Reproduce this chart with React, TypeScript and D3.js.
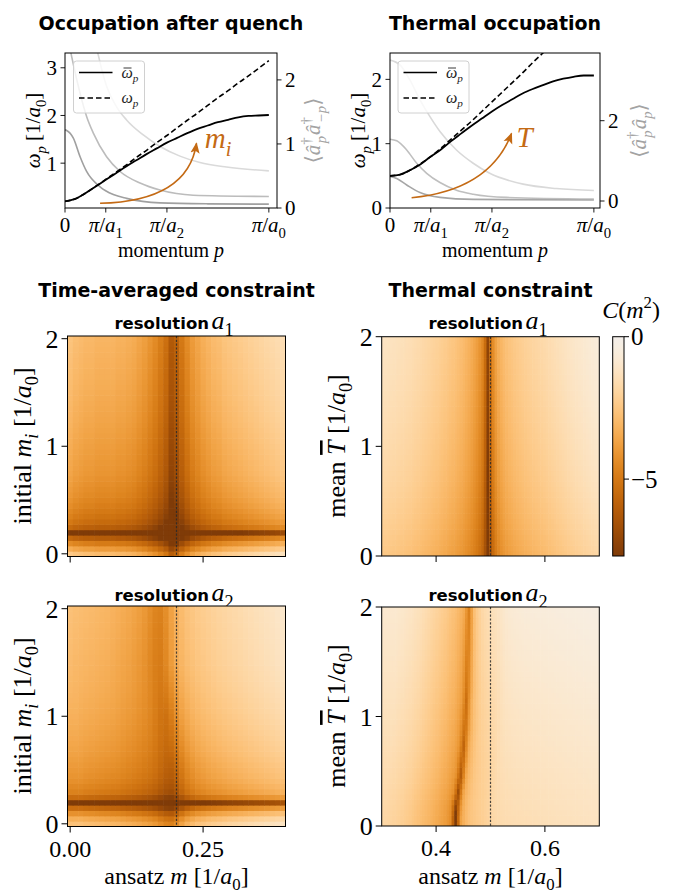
import React from 'react';
import * as d3 from 'd3';

const W = 678, H = 895;
const SERIF = "'Liberation Serif','DejaVu Serif','DejaVu Sans',serif";
const SANS = "'DejaVu Sans',sans-serif";
const ORANGE = '#c46a14';

// ---------- top panels: dispersion (p in units of pi/a0) ----------
const momentum = [0, 0.05, 0.1, 0.15, 0.2, 0.25, 0.3, 0.35, 0.4, 0.45, 0.5, 0.55, 0.6, 0.65, 0.7, 0.75, 0.8, 0.85, 0.9, 0.95, 1.0];
const omegaBarQuench = [0.20, 0.25, 0.37, 0.51, 0.65, 0.79, 0.93, 1.06, 1.19, 1.31, 1.43, 1.53, 1.63, 1.72, 1.79, 1.86, 1.91, 1.96, 1.99, 2.0, 2.01];
const omegaQuench = [0.20, 0.25, 0.37, 0.51, 0.66, 0.81, 0.96, 1.12, 1.27, 1.43, 1.58, 1.74, 1.90, 2.05, 2.21, 2.37, 2.52, 2.68, 2.83, 2.99, 3.15];
const omegaBarThermal = [0.50, 0.52, 0.59, 0.68, 0.80, 0.91, 1.04, 1.16, 1.28, 1.39, 1.50, 1.60, 1.69, 1.78, 1.85, 1.91, 1.97, 2.01, 2.04, 2.06, 2.06];
const omegaThermal = [0.50, 0.52, 0.59, 0.69, 0.80, 0.93, 1.07, 1.21, 1.35, 1.50, 1.65, 1.80, 1.95, 2.10, 2.26, 2.41, 2.56, 2.72, 2.87, 3.03, 3.18];

// occupations [p, value] (right axis)
const occQuenchLow = [[0, 1.22], [0.008, 1.21], [0.041, 1.09], [0.074, 0.80], [0.106, 0.57], [0.172, 0.33], [0.237, 0.21], [0.302, 0.15], [0.466, 0.08], [0.7, 0.065], [1.0, 0.06]];
const occQuenchMid = [[0.015, 2.65], [0.033, 2.36], [0.074, 1.79], [0.106, 1.43], [0.139, 1.17], [0.204, 0.80], [0.270, 0.57], [0.368, 0.39], [0.466, 0.28], [0.629, 0.20], [1.0, 0.18]];
const occQuenchHigh = [[0.145, 2.65], [0.163, 2.39], [0.204, 1.90], [0.253, 1.58], [0.302, 1.375], [0.384, 1.14], [0.466, 0.96], [0.564, 0.81], [0.662, 0.71], [0.792, 0.64], [1.0, 0.58]];
const occThermalHigh = [[0, 3.51], [0.049, 3.39], [0.098, 3.01], [0.147, 2.52], [0.196, 2.10], [0.245, 1.73], [0.326, 1.27], [0.408, 0.94], [0.489, 0.69], [0.653, 0.42], [0.816, 0.31], [1.0, 0.26]];
const occThermalMid = [[0, 1.54], [0.033, 1.50], [0.082, 1.27], [0.131, 0.94], [0.180, 0.69], [0.245, 0.46], [0.326, 0.27], [0.408, 0.17], [0.571, 0.09], [1.0, 0.05]];
const occThermalLow = [[0, 0.61], [0.033, 0.56], [0.082, 0.40], [0.147, 0.21], [0.245, 0.09], [0.408, 0.04], [1.0, 0.025]];

const momentumTicks = [0, 0.2, 0.5, 1.0];
const momentumTickSubs = ['', '1', '2', '0'];
const quenchTicksL = [1, 2, 3];
const quenchTicksR = [0, 1, 2];
const thermalTicksL = [0, 1, 2];
const thermalTicksR = [0, 2];

const quenchArrow = { from: [0.172, 0.159], ctrl: [0.603, 0.207], to: [0.645, 1.417], label: [0.686, 1.318] };
const thermalArrow = { from: [0.106, 0.16], ctrl: [0.489, 0.28], to: [0.596, 1.158], label: [0.62, 0.953] };

// ---------- heatmaps ----------
// time-averaged constraint, columns m = 0..0.40 (step 0.01), rows m_i = 0..2 (step 0.05)
const taColA1 = [-2.6, -2.8, -2.9, -3.0, -3.0, -3.1, -3.1, -3.1, -3.1, -3.2, -3.2, -3.3, -3.4, -3.6, -3.8, -4.1, -4.4, -4.8, -5.3, -6.2, -5.8, -5.0, -4.4, -3.9, -3.6, -3.3, -3.1, -2.9, -2.8, -2.6, -2.5, -2.4, -2.3, -2.2, -2.1, -2.0, -1.9, -1.8, -1.7, -1.6, -1.5];
const taRowA1 = [0.2, -0.8, -1.8, -3.0, -5.4, -2.9, -2.4, -2.1, -1.9, -1.7, -1.55, -1.4, -1.3, -1.2, -1.1, -1.0, -0.95, -0.9, -0.85, -0.8, -0.75, -0.7, -0.65, -0.6, -0.55, -0.5, -0.46, -0.42, -0.38, -0.34, -0.3, -0.27, -0.24, -0.21, -0.18, -0.15, -0.12, -0.09, -0.06, -0.03, 0];
const taColA2 = [-2.7, -2.8, -2.85, -2.9, -2.95, -3.0, -3.05, -3.1, -3.2, -3.3, -3.4, -3.5, -3.65, -3.8, -4.0, -4.3, -4.6, -4.7, -4.3, -3.7, -3.2, -2.9, -2.65, -2.5, -2.35, -2.25, -2.15, -2.05, -1.95, -1.88, -1.8, -1.72, -1.65, -1.57, -1.5, -1.42, -1.35, -1.27, -1.2, -1.1, -1.0];
const taRowA2 = [0.0, -0.6, -1.5, -2.7, -5.3, -2.7, -2.0, -1.75, -1.55, -1.4, -1.3, -1.2, -1.1, -1.0, -0.92, -0.85, -0.78, -0.72, -0.66, -0.6, -0.55, -0.5, -0.46, -0.42, -0.38, -0.34, -0.31, -0.28, -0.25, -0.22, -0.19, -0.17, -0.15, -0.13, -0.11, -0.09, -0.07, -0.05, -0.03, -0.015, 0];
// band drift of the a2 panel per row, in columns
const taShiftA2 = [2, 2, 2, 2, 2, 2, 2, 2, 2, 2, 2, 1.9, 1.8, 1.7, 1.6, 1.5, 1.4, 1.3, 1.2, 1.1, 1.0, 0.9, 0.8, 0.7, 0.6, 0.5, 0.4, 0.3, 0.2, 0.1, 0, 0, 0, 0, 0, 0, 0, 0, 0, 0, 0];

// thermal constraint, columns m = 0.30..0.70 (81), rows T = 0..2 (41)
const thColA1 = [-1.20, -1.22, -1.25, -1.28, -1.31, -1.34, -1.37, -1.40, -1.43, -1.47, -1.50, -1.55, -1.60, -1.65, -1.70, -1.76, -1.82, -1.88, -1.94, -2.00, -2.06, -2.13, -2.20, -2.28, -2.36, -2.44, -2.52, -2.60, -2.70, -2.80, -2.92, -3.05, -3.20, -3.38, -3.58, -3.80, -4.10, -4.50, -5.40, -7.20, -5.20, -4.30, -3.70, -3.30, -3.05, -2.85, -2.70, -2.58, -2.48, -2.38, -2.30, -2.22, -2.15, -2.08, -2.02, -1.96, -1.90, -1.85, -1.80, -1.75, -1.70, -1.64, -1.58, -1.52, -1.46, -1.40, -1.34, -1.28, -1.22, -1.16, -1.10, -1.05, -1.00, -0.95, -0.90, -0.85, -0.80, -0.75, -0.70, -0.65, -0.60];
const thRowA1 = [-1.2, -1.15, -1.1, -1.05, -1.0, -0.95, -0.9, -0.86, -0.82, -0.78, -0.74, -0.70, -0.66, -0.62, -0.59, -0.56, -0.53, -0.5, -0.47, -0.44, -0.41, -0.38, -0.36, -0.33, -0.31, -0.28, -0.26, -0.24, -0.21, -0.19, -0.17, -0.15, -0.13, -0.11, -0.09, -0.07, -0.055, -0.04, -0.025, -0.01, 0];
const thColA2 = [-1.80, -1.85, -1.90, -1.95, -2.00, -2.05, -2.10, -2.17, -2.24, -2.31, -2.40, -2.50, -2.60, -2.70, -2.80, -2.90, -3.00, -3.10, -3.20, -3.32, -3.45, -3.58, -3.70, -3.85, -4.05, -4.30, -4.55, -4.70, -4.30, -3.70, -3.25, -2.95, -2.70, -2.55, -2.45, -2.35, -2.27, -2.20, -2.10, -2.00, -1.88, -1.78, -1.72, -1.68, -1.65, -1.62, -1.60, -1.58, -1.56, -1.55, -1.54, -1.53, -1.52, -1.51, -1.50, -1.49, -1.48, -1.47, -1.46, -1.45, -1.44, -1.43, -1.42, -1.41, -1.40, -1.39, -1.38, -1.37, -1.36, -1.35, -1.34, -1.33, -1.32, -1.31, -1.30, -1.29, -1.28, -1.27, -1.26, -1.25, -1.24];
const thRowA2 = [0, 0.02, 0.04, 0.07, 0.09, 0.11, 0.13, 0.16, 0.18, 0.2, 0.22, 0.25, 0.27, 0.29, 0.31, 0.34, 0.36, 0.38, 0.4, 0.43, 0.45, 0.47, 0.49, 0.52, 0.54, 0.56, 0.58, 0.61, 0.63, 0.65, 0.67, 0.7, 0.72, 0.74, 0.76, 0.79, 0.81, 0.83, 0.85, 0.88, 0.9];
// streak drift per row, in columns
const thShiftA2 = [0, 0, 0.1, 0.2, 0.4, 0.7, 1.0, 1.3, 1.6, 1.9, 2.1, 2.3, 2.5, 2.7, 2.9, 3.05, 3.2, 3.35, 3.5, 3.6, 3.7, 3.8, 3.9, 4.0, 4.1, 4.2, 4.25, 4.3, 4.35, 4.4, 4.45, 4.5, 4.55, 4.6, 4.65, 4.7, 4.75, 4.8, 4.85, 4.9, 4.95];
const thStreakA2 = [-3.5, -3.5, -3.3, -3.0, -2.7, -2.4, -2.2, -2.0, -1.9, -1.8, -1.7, -1.6, -1.55, -1.5, -1.45, -1.4, -1.35, -1.3, -1.28, -1.26, -1.24, -1.22, -1.2, -1.18, -1.16, -1.14, -1.12, -1.1, -1.09, -1.08, -1.07, -1.06, -1.05, -1.04, -1.03, -1.02, -1.01, -1.0, -1.0, -1.0, -1.0];
const thStreakCol = 27;
const thStreakWeights = [1, 0.35, 0];

const cbMin = -7.7, cbMax = 0;
const cbTicks = [0, -5];
const cbTickLabels = ['0', '−5'];
const taTicks = [0, 0.25];
const taTickLabels = ['0.00', '0.25'];
const thTicks = [0.4, 0.6];
const thTickLabels = ['0.4', '0.6'];
const constraintYTicks = [0, 1, 2];
const trueMassTA = 0.2;
const trueMassTH = 0.5;

// ---------- helpers ----------
// PuOr: brown end (t=1) for the most negative values, neutral (t=0.5) for 0
const cmap = (v: number) => d3.interpolatePuOr(1 - 0.5 * (Math.max(cbMin, Math.min(cbMax, v)) - cbMin) / (cbMax - cbMin));

// read a profile at a fractional column position (used for the drifting bands)
const at = (arr: number[], pos: number) => {
  const k0 = Math.max(0, Math.min(arr.length - 1, Math.floor(pos)));
  const k1 = Math.max(0, Math.min(arr.length - 1, k0 + 1));
  const f = Math.max(0, Math.min(1, pos - Math.floor(pos)));
  return pos < 0 ? arr[0] : arr[k0] + (arr[k1] - arr[k0]) * f;
};

type Seg = { t: string; i?: boolean; sub?: boolean; sup?: boolean; dx?: number; fs?: number; f?: string; b?: boolean; over?: boolean };
const S = (t: string, o: Partial<Seg> = {}): Seg => ({ t, ...o });

function MText({ x, y, segs, size, anchor = 'middle', rot = 0, fill = '#000', family = SERIF }: any) {
  let cur = 0;
  const kids = segs.map((s: Seg, k: number) => {
    const target = s.sub ? 0.27 * size : s.sup ? -0.42 * size : 0;
    const dy = target - cur;
    cur = target;
    const fs = s.fs ?? (s.sub || s.sup ? 0.7 * size : size);
    return (
      <tspan key={k} dy={dy !== 0 ? dy : undefined} dx={s.dx} fontSize={fs} fontStyle={s.i ? 'italic' : 'normal'}
        fontFamily={s.f} fontWeight={s.b ? 'bold' : undefined} textDecoration={s.over ? 'overline' : undefined}>{s.t}</tspan>
    );
  });
  return (
    <text transform={`translate(${x},${y})${rot ? ` rotate(${rot})` : ''}`} textAnchor={anchor} fontFamily={family} fontSize={size} fill={fill}>
      {kids}
    </text>
  );
}

const unitSegs = [S(' [1/'), S('a', { i: true }), S('0', { sub: true }), S(']')];

function LinePanel(props: any) {
  const { id, xs, yl, yr, bar, free, occ, occColors, ticksL, ticksR, legendX, arrow, arrowLabel, rightSegs, leftLabelX, rightLabelX } = props;
  const [x0, x1] = xs.range();
  const [yb, yt] = yl.range();
  const lineL = d3.line<number>().x((_, i) => xs(momentum[i])).y((d) => yl(d)).curve(d3.curveMonotoneX);
  const lineR = d3.line<number[]>().x((d) => xs(d[0])).y((d) => yr(d[1])).curve(d3.curveMonotoneX);
  const P = (d: number[]) => [xs(d[0]), yl(d[1])];
  const a0 = P(arrow.from), ac = P(arrow.ctrl), a1 = P(arrow.to), al = P(arrow.label);
  return (
    <g>
      <defs>
        <clipPath id={`clip-${id}`}><rect x={x0} y={yt} width={x1 - x0} height={yb - yt} /></clipPath>
        <marker id={`head-${id}`} viewBox="0 0 10 10" refX={9} refY={5} markerWidth={11} markerHeight={11} markerUnits="userSpaceOnUse" orient="auto">
          <path d="M0,0.8 L10,5 L0,9.2 L2.2,5 Z" fill={ORANGE} />
        </marker>
      </defs>
      <g clipPath={`url(#clip-${id})`}>
        {occ.map((o: number[][], k: number) => (
          <path key={k} d={lineR(o) || ''} fill="none" stroke={occColors[k]} strokeWidth={1.6} />
        ))}
        <path d={lineL(free) || ''} fill="none" stroke="#000" strokeWidth={1.6} strokeDasharray="5.5,3" />
        <path d={lineL(bar) || ''} fill="none" stroke="#000" strokeWidth={1.8} />
      </g>
      <path d={`M${a0[0]},${a0[1]} Q${ac[0]},${ac[1]} ${a1[0]},${a1[1]}`} fill="none" stroke={ORANGE} strokeWidth={1.6} markerEnd={`url(#head-${id})`} />
      <MText x={al[0]} y={al[1]} segs={arrowLabel} size={29} anchor="start" fill={ORANGE} />
      {/* legend */}
      <g>
        <rect x={legendX} y={61} width={71} height={52} rx={3} fill="#fff" fillOpacity={0.8} stroke="#d0d0d0" strokeWidth={1} />
        <line x1={legendX + 5.5} x2={legendX + 39} y1={72.5} y2={72.5} stroke="#000" strokeWidth={1.6} />
        <line x1={legendX + 5.5} x2={legendX + 39} y1={98} y2={98} stroke="#000" strokeWidth={1.6} strokeDasharray="5.5,3" />
        <MText x={legendX + 48} y={78} segs={[S('ω', { i: true }), S('p', { sub: true, i: true })]} size={16} anchor="start" fill="#222" />
        <line x1={legendX + 50} x2={legendX + 58} y1={68} y2={68} stroke="#222" strokeWidth={0.9} />
        <MText x={legendX + 48} y={103} segs={[S('ω', { i: true }), S('p', { sub: true, i: true })]} size={16} anchor="start" fill="#222" />
      </g>
      <rect x={x0} y={yt} width={x1 - x0} height={yb - yt} fill="none" stroke="#000" strokeWidth={1} />
      {momentumTicks.map((t, k) => (
        <g key={k}>
          <line x1={xs(t)} x2={xs(t)} y1={yb} y2={yb + 4.5} stroke="#000" strokeWidth={0.9} />
          <MText x={xs(t)} y={232} size={21}
            segs={momentumTickSubs[k] ? [S('π', { i: true }), S('/'), S('a', { i: true }), S(momentumTickSubs[k], { sub: true })] : [S('0')]} />
        </g>
      ))}
      {ticksL.map((t: number) => (
        <g key={t}>
          <line x1={x0 - 4.5} x2={x0} y1={yl(t)} y2={yl(t)} stroke="#000" strokeWidth={0.9} />
          <text x={x0 - 8} y={yl(t)} dy="0.35em" textAnchor="end" fontFamily={SERIF} fontSize={21}>{t}</text>
        </g>
      ))}
      {ticksR.map((t: number) => (
        <g key={t}>
          <line x1={x1} x2={x1 + 4.5} y1={yr(t)} y2={yr(t)} stroke="#000" strokeWidth={0.9} />
          <text x={x1 + 8} y={yr(t)} dy="0.35em" textAnchor="start" fontFamily={SERIF} fontSize={21}>{t}</text>
        </g>
      ))}
      <MText x={(x0 + x1) / 2} y={257} size={20} segs={[S('momentum '), S('p', { i: true })]} />
      <MText x={leftLabelX} y={(yb + yt) / 2} rot={-90} size={21} segs={[S('ω', { i: true }), S('p', { sub: true, i: true }), ...unitSegs]} />
      <MText x={rightLabelX} y={(yb + yt) / 2} rot={-90} size={21} fill="#a3a3a3" segs={rightSegs} />
    </g>
  );
}

function HeatPanel(props: any) {
  const { id, xs, ys, grid, colEdges, rowEdges, trueM, xTicks, xTickLabels, showX } = props;
  const [x0, x1] = xs.range();
  const [yb, yt] = ys.range();
  return (
    <g>
      <defs>
        <clipPath id={`hclip-${id}`}><rect x={x0} y={yt} width={x1 - x0} height={yb - yt} /></clipPath>
      </defs>
      <g clipPath={`url(#hclip-${id})`}>
        {grid.map((row: number[], i: number) =>
          row.map((v: number, j: number) => {
            const xa = xs(colEdges[j]), xb = xs(colEdges[j + 1]);
            const ya = ys(rowEdges[i + 1]), yb2 = ys(rowEdges[i]);
            return <rect key={`${i}-${j}`} x={xa} y={ya} width={xb - xa + 0.6} height={yb2 - ya + 0.6} fill={cmap(v)} />;
          })
        )}
        <line x1={xs(trueM)} x2={xs(trueM)} y1={yt} y2={yb} stroke="#2a2a2a" strokeOpacity={0.85} strokeWidth={1.2} strokeDasharray="2.2,1.6" />
      </g>
      <rect x={x0} y={yt} width={x1 - x0} height={yb - yt} fill="none" stroke="#000" strokeWidth={1} />
      {xTicks.map((t: number, k: number) => (
        <g key={k}>
          <line x1={xs(t)} x2={xs(t)} y1={yb} y2={yb + 6} stroke="#000" strokeWidth={1} />
          {showX && <text x={xs(t)} y={yb + 30} textAnchor="middle" fontFamily={SERIF} fontSize={24}>{xTickLabels[k]}</text>}
        </g>
      ))}
      {constraintYTicks.map((t) => (
        <g key={t}>
          <line x1={x0 - 6} x2={x0} y1={ys(t)} y2={ys(t)} stroke="#000" strokeWidth={1} />
          <text x={x0 - 9} y={ys(t)} dy="0.35em" textAnchor="end" fontFamily={SERIF} fontSize={26}>{t}</text>
        </g>
      ))}
    </g>
  );
}

// grids built from the read profiles
const taGrid1 = taRowA1.map((b) => taColA1.map((a) => a + b));
const taGrid2 = taRowA2.map((b, i) => taColA2.map((_, j) => at(taColA2, j - taShiftA2[i]) + b));
const thGrid1 = thRowA1.map((b) => thColA1.map((a) => a + b));
const thGrid2 = thRowA2.map((b, i) =>
  thColA2.map((_, j) => {
    const pos = j - thShiftA2[i];
    const base = at(thColA2, pos);
    const w = at(thStreakWeights, Math.abs(pos - thStreakCol));
    return base + b + w * thStreakA2[i];
  })
);

const taColEdges = d3.range(taColA1.length + 1).map((j) => -0.005 + j * 0.01);
const taRowEdges = d3.range(taRowA1.length + 1).map((i) => -0.025 + i * 0.05);
const thColEdges = d3.range(thColA1.length + 1).map((j) => 0.3 + (j * 0.4) / thColA1.length);
const thRowEdges = d3.range(thRowA1.length + 1).map((i) => (i * 2) / thRowA1.length);

export default function App() {
  const tlX = d3.scaleLinear().domain([0, 1.04]).range([65, 277]);
  const tlYL = d3.scaleLinear().domain([0.06, 3.31]).range([208, 53]);
  const tlYR = d3.scaleLinear().domain([0, 2.42]).range([208, 53]);
  const trX = d3.scaleLinear().domain([0, 1.03]).range([390, 600]);
  const trYL = d3.scaleLinear().domain([0, 2.41]).range([208, 53]);
  const trYR = d3.scaleLinear().domain([-0.174, 3.686]).range([208, 53]);

  const taX = d3.scaleLinear().domain([-0.005, 0.405]).range([67.5, 285.5]);
  const thX = d3.scaleLinear().domain([0.3, 0.7]).range([381.7, 599.3]);
  const taY1 = d3.scaleLinear().domain([-0.025, 2.025]).range([556.5, 336]);
  const thY1 = d3.scaleLinear().domain([0, 2]).range([556, 336.7]);
  const taY2 = d3.scaleLinear().domain([-0.025, 2.025]).range([826.5, 606]);
  const thY2 = d3.scaleLinear().domain([0, 2]).range([826, 607]);
  const cbY = d3.scaleLinear().domain([cbMin, cbMax]).range([556, 336.7]);
  const cbStops = d3.range(0, 1.0001, 0.05);

  const quenchRight = [S('⟨'), S('â', { i: true }), S('†', { sup: true }), S('p', { sub: true, i: true, dx: -6 }), S('â', { i: true, dx: 1 }), S('†', { sup: true }), S('−p', { sub: true, i: true, dx: -6 }), S('⟩')];
  const thermalRight = [S('⟨'), S('â', { i: true }), S('†', { sup: true }), S('p', { sub: true, i: true, dx: -6 }), S('â', { i: true, dx: 1 }), S('p', { sub: true, i: true }), S('⟩')];

  const resSegs = (n: string) => [S('resolution', { f: SANS, b: true, fs: 16.5 }), S(' ', { fs: 10 }), S('a', { i: true }), S(n, { sub: true })];
  const miLabel = [S('initial '), S('m', { i: true }), S('i', { sub: true, i: true }), ...unitSegs];
  const tLabel = [S('mean '), S('T', { i: true, over: true }), ...unitSegs];
  const mLabel = [S('ansatz '), S('m', { i: true }), ...unitSegs];

  return (
    <svg width={W} height={H} style={{ position: 'absolute', left: 0, top: 0, background: '#fff' }}>
      <rect width={W} height={H} fill="#fff" />
      {/* titles */}
      <text x={171} y={30} textAnchor="middle" fontFamily={SANS} fontWeight="bold" fontSize={19}>Occupation after quench</text>
      <text x={495} y={30} textAnchor="middle" fontFamily={SANS} fontWeight="bold" fontSize={19}>Thermal occupation</text>
      <text x={176.5} y={297} textAnchor="middle" fontFamily={SANS} fontWeight="bold" fontSize={19}>Time-averaged constraint</text>
      <text x={490.5} y={297} textAnchor="middle" fontFamily={SANS} fontWeight="bold" fontSize={19}>Thermal constraint</text>

      <LinePanel id="tl" xs={tlX} yl={tlYL} yr={tlYR} bar={omegaBarQuench} free={omegaQuench}
        occ={[occQuenchHigh, occQuenchMid, occQuenchLow]} occColors={['#dadada', '#bcbcbc', '#a0a0a0']}
        ticksL={quenchTicksL} ticksR={quenchTicksR} legendX={73.5} arrow={quenchArrow}
        arrowLabel={[S('m', { i: true }), S('i', { sub: true, i: true })]} rightSegs={quenchRight} leftLabelX={40} rightLabelX={320} />
      <LinePanel id="tr" xs={trX} yl={trYL} yr={trYR} bar={omegaBarThermal} free={omegaThermal}
        occ={[occThermalHigh, occThermalMid, occThermalLow]} occColors={['#d9d9d9', '#bfbfbf', '#a6a6a6']}
        ticksL={thermalTicksL} ticksR={thermalTicksR} legendX={398} arrow={thermalArrow}
        arrowLabel={[S('T', { i: true })]} rightSegs={thermalRight} leftLabelX={365} rightLabelX={646} />

      {/* subtitles */}
      <MText x={174} y={329} size={26} segs={resSegs('1')} />
      <MText x={488} y={329} size={26} segs={resSegs('1')} />
      <MText x={174} y={601} size={26} segs={resSegs('2')} />
      <MText x={488} y={601} size={26} segs={resSegs('2')} />

      <HeatPanel id="h1" xs={taX} ys={taY1} grid={taGrid1} colEdges={taColEdges} rowEdges={taRowEdges} trueM={trueMassTA} xTicks={taTicks} xTickLabels={taTickLabels} showX={false} />
      <HeatPanel id="h2" xs={thX} ys={thY1} grid={thGrid1} colEdges={thColEdges} rowEdges={thRowEdges} trueM={trueMassTH} xTicks={thTicks} xTickLabels={thTickLabels} showX={false} />
      <HeatPanel id="h3" xs={taX} ys={taY2} grid={taGrid2} colEdges={taColEdges} rowEdges={taRowEdges} trueM={trueMassTA} xTicks={taTicks} xTickLabels={taTickLabels} showX={true} />
      <HeatPanel id="h4" xs={thX} ys={thY2} grid={thGrid2} colEdges={thColEdges} rowEdges={thRowEdges} trueM={trueMassTH} xTicks={thTicks} xTickLabels={thTickLabels} showX={true} />

      {/* axis labels */}
      <MText x={31} y={446} rot={-90} size={26} segs={miLabel} />
      <MText x={31} y={716} rot={-90} size={26} segs={miLabel} />
      <MText x={345} y={446} rot={-90} size={26} segs={tLabel} />
      <MText x={345} y={716} rot={-90} size={26} segs={tLabel} />
      <MText x={176.5} y={884} size={24} segs={mLabel} />
      <MText x={490.5} y={884} size={24} segs={mLabel} />

      {/* colorbar */}
      <defs>
        <linearGradient id="cbgrad" x1="0" y1="1" x2="0" y2="0">
          {cbStops.map((s) => (
            <stop key={s} offset={s} stopColor={cmap(cbMin + s * (cbMax - cbMin))} />
          ))}
        </linearGradient>
      </defs>
      <rect x={612.7} y={cbY(cbMax)} width={11.3} height={cbY(cbMin) - cbY(cbMax)} fill="url(#cbgrad)" stroke="#000" strokeWidth={1} />
      {cbTicks.map((t, k) => (
        <g key={t}>
          <line x1={624} x2={629} y1={cbY(t)} y2={cbY(t)} stroke="#000" strokeWidth={1} />
          <text x={631} y={cbY(t)} dy="0.35em" fontFamily={SERIF} fontSize={25}>{cbTickLabels[k]}</text>
        </g>
      ))}
      <MText x={631} y={318} size={24} segs={[S('C', { i: true }), S('('), S('m', { i: true }), S('2', { sup: true }), S(')')]} />
    </svg>
  );
}
